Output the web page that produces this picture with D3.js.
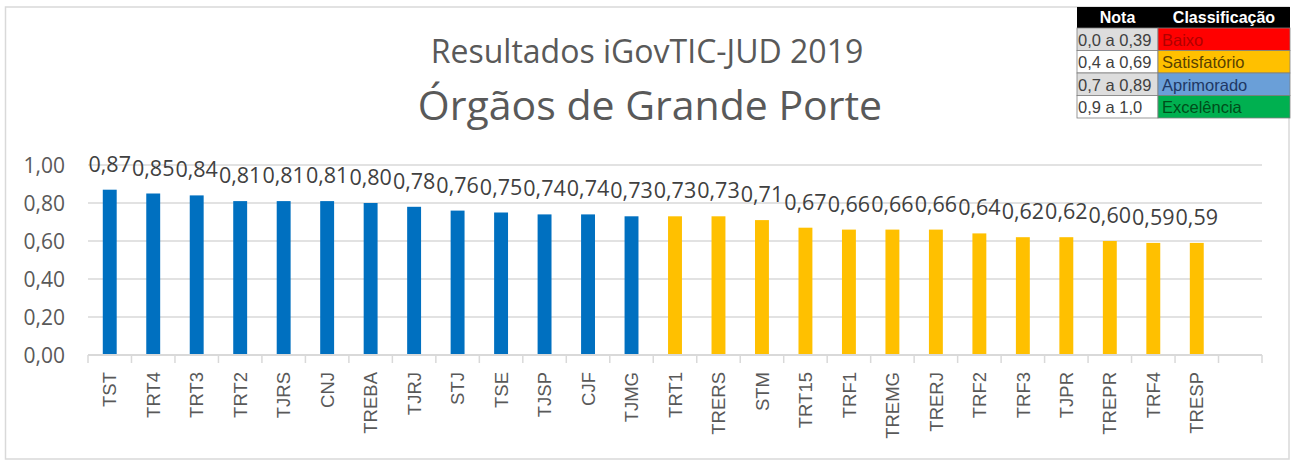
<!DOCTYPE html>
<html>
<head>
<meta charset="utf-8">
<script src="https://cdn.jsdelivr.net/npm/d3@7"></script>
<style>
    body { margin: 0; background: #fff; }
    svg { display: block; }
</style>
</head>
<body>
<div id="chart"></div>
<script>
const width = 1292;
const height = 461;

// Data
const orgaos = ["TST", "TRT4", "TRT3", "TRT2", "TJRS", "CNJ", "TREBA", "TJRJ", "STJ", "TSE", "TJSP", "CJF", "TJMG",
    "TRT1", "TRERS", "STM", "TRT15", "TRF1", "TREMG", "TRERJ", "TRF2", "TRF3", "TJPR", "TREPR", "TRF4", "TRESP"];
const notas = [0.87, 0.85, 0.84, 0.81, 0.81, 0.81, 0.80, 0.78, 0.76, 0.75, 0.74, 0.74, 0.73,
    0.73, 0.73, 0.71, 0.67, 0.66, 0.66, 0.66, 0.64, 0.62, 0.62, 0.60, 0.59, 0.59];
const classes = ["Aprimorado", "Aprimorado", "Aprimorado", "Aprimorado", "Aprimorado", "Aprimorado", "Aprimorado",
    "Aprimorado", "Aprimorado", "Aprimorado", "Aprimorado", "Aprimorado", "Aprimorado",
    "Satisfatório", "Satisfatório", "Satisfatório", "Satisfatório", "Satisfatório", "Satisfatório", "Satisfatório",
    "Satisfatório", "Satisfatório", "Satisfatório", "Satisfatório", "Satisfatório", "Satisfatório"];
const yTicks = [0, 0.2, 0.4, 0.6, 0.8, 1.0];

// Legend table
const faixas = ["0,0 a 0,39", "0,4 a 0,69", "0,7 a 0,89", "0,9 a 1,0"];
const classificacoes = ["Baixo", "Satisfatório", "Aprimorado", "Excelência"];
const corClasse = ["#FF0000", "#FFC000", "#6A9FD8", "#00B050"];
const corTextoClasse = ["#B00000", "#5A4200", "#1F3864", "#004D1A"];
const barColor = { "Aprimorado": "#0070C0", "Satisfatório": "#FFC000" };

const br = d3.formatLocale({ decimal: ",", thousands: ".", grouping: [3], currency: ["R$", ""] });
const fmt = br.format(".2f");

const svg = d3.select("#chart")
    .append("svg")
    .attr("width", width)
    .attr("height", height);

svg.append("rect")
    .attr("x", 0).attr("y", 0)
    .attr("width", width).attr("height", height)
    .attr("fill", "#fff");

// chart border
svg.append("rect")
    .attr("x", 5.5).attr("y", 7)
    .attr("width", 1283.5).attr("height", 452)
    .attr("fill", "none")
    .attr("stroke", "#d9d9d9")
    .attr("stroke-width", 1.5);

// one blank category at the end, like the source sheet
const domain = orgaos.concat([" "]);
const x = d3.scaleBand().domain(domain).range([88, 1262]);
const y = d3.scaleLinear().domain([0, 1]).range([355, 165]);
const barW = x.bandwidth() * 0.32;

// gridlines
svg.append("g")
    .selectAll("line")
    .data(yTicks.filter((d) => d > 0))
    .enter()
    .append("line")
    .attr("x1", 88).attr("x2", 1262)
    .attr("y1", (d) => y(d)).attr("y2", (d) => y(d))
    .attr("stroke", "#d9d9d9")
    .attr("stroke-width", 1.5);

// y labels
svg.append("g")
    .selectAll("text")
    .data(yTicks)
    .enter()
    .append("text")
    .attr("x", 65)
    .attr("y", (d) => y(d))
    .attr("dy", "0.36em")
    .attr("text-anchor", "end")
    .attr("font-family", "'Open Sans', sans-serif")
    .attr("font-size", 21)
    .attr("fill", "#595959")
    .text((d) => fmt(d));

// bars
svg.append("g")
    .selectAll("rect")
    .data(orgaos)
    .enter()
    .append("rect")
    .attr("x", (d) => x(d) + (x.bandwidth() - barW) / 2)
    .attr("y", (d, i) => y(notas[i]))
    .attr("width", barW)
    .attr("height", (d, i) => y(0) - y(notas[i]))
    .attr("fill", (d, i) => barColor[classes[i]]);

// x axis line and ticks
svg.append("line")
    .attr("x1", 88).attr("x2", 1262)
    .attr("y1", y(0)).attr("y2", y(0))
    .attr("stroke", "#d9d9d9")
    .attr("stroke-width", 2);

const tickPos = domain.map((d) => x(d)).concat([x.range()[1]]);
svg.append("g")
    .selectAll("line")
    .data(tickPos)
    .enter()
    .append("line")
    .attr("x1", (d) => d).attr("x2", (d) => d)
    .attr("y1", y(0)).attr("y2", y(0) + 8)
    .attr("stroke", "#d9d9d9")
    .attr("stroke-width", 1.5);

// x labels (rotated)
svg.append("g")
    .selectAll("text")
    .data(orgaos)
    .enter()
    .append("text")
    .attr("transform", (d) => `translate(${x(d) + x.bandwidth() / 2},372) rotate(-90)`)
    .attr("dy", "0.36em")
    .attr("text-anchor", "end")
    .attr("font-family", "'Liberation Sans', Arial, sans-serif")
    .attr("font-size", 18.5)
    .attr("fill", "#595959")
    .text((d) => d);

// data labels
svg.append("g")
    .selectAll("text")
    .data(orgaos)
    .enter()
    .append("text")
    .attr("x", (d) => x(d) + x.bandwidth() / 2)
    .attr("y", (d, i) => y(notas[i]) - 18)
    .attr("text-anchor", "middle")
    .attr("font-family", "'Open Sans', sans-serif")
    .attr("font-size", 21.5)
    .attr("fill", "#404040")
    .text((d, i) => fmt(notas[i]));

// titles
svg.append("text")
    .attr("x", 647).attr("y", 63)
    .attr("text-anchor", "middle")
    .attr("font-family", "'Open Sans', sans-serif")
    .attr("font-size", 32)
    .attr("fill", "#595959")
    .text("Resultados iGovTIC-JUD 2019");

svg.append("text")
    .attr("x", 650).attr("y", 120)
    .attr("text-anchor", "middle")
    .attr("font-family", "'Open Sans', sans-serif")
    .attr("font-size", 41)
    .attr("fill", "#595959")
    .text("Órgãos de Grande Porte");

// legend table
const tx0 = 1077, tx1 = 1158, tx2 = 1290;
const headTop = 7, headH = 21, rowH = 22.5;
const tbl = svg.append("g").attr("font-family", "'Liberation Sans', Arial, sans-serif");

tbl.append("rect")
    .attr("x", tx0).attr("y", headTop)
    .attr("width", tx2 - tx0).attr("height", headH)
    .attr("fill", "#000");
tbl.append("text")
    .attr("x", (tx0 + tx1) / 2).attr("y", headTop + 16)
    .attr("text-anchor", "middle")
    .attr("font-weight", "bold").attr("font-size", 16)
    .attr("fill", "#fff")
    .text("Nota");
tbl.append("text")
    .attr("x", (tx1 + tx2) / 2).attr("y", headTop + 16)
    .attr("text-anchor", "middle")
    .attr("font-weight", "bold").attr("font-size", 16)
    .attr("fill", "#fff")
    .text("Classificação");

const rows = tbl.selectAll("g.row")
    .data(faixas)
    .enter()
    .append("g")
    .attr("class", "row")
    .attr("transform", (d, i) => `translate(0,${headTop + headH + i * rowH})`);

rows.append("rect")
    .attr("x", tx0).attr("y", 0)
    .attr("width", tx1 - tx0).attr("height", rowH)
    .attr("fill", (d, i) => (i % 2 === 0 ? "#DDDDDD" : "#fff"))
    .attr("stroke", "#7f7f7f").attr("stroke-width", 0.8);
rows.append("rect")
    .attr("x", tx1).attr("y", 0)
    .attr("width", tx2 - tx1).attr("height", rowH)
    .attr("fill", (d, i) => corClasse[i])
    .attr("stroke", "#7f7f7f").attr("stroke-width", 0.8);
rows.append("text")
    .attr("x", tx0 + 1).attr("y", rowH - 5)
    .attr("font-size", 16.5)
    .attr("fill", "#404040")
    .text((d) => d);
rows.append("text")
    .attr("x", tx1 + 4).attr("y", rowH - 5)
    .attr("font-size", 16.5)
    .attr("fill", (d, i) => corTextoClasse[i])
    .text((d, i) => classificacoes[i]);
</script>
</body>
</html>
